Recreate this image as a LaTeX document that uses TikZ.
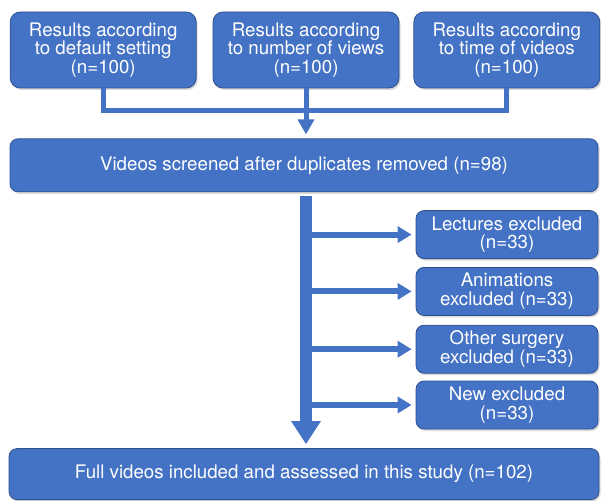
\documentclass[tikz,border=0pt]{standalone}
\usepackage{fontspec}
\setmainfont{TeX Gyre Heros}
\usetikzlibrary{arrows.meta, positioning, shadows}
\definecolor{boxblue}{RGB}{68,114,196}
\definecolor{boxedge}{RGB}{47,82,143}
\tikzset{
    sourcebox/.style={draw=boxedge, fill=boxblue, rectangle, rounded corners=10pt, line width=0.8pt, text=white, align=center, minimum width=186pt, minimum height=76pt, inner sep=2pt, font=\fontsize{18.7}{18.6}\selectfont, drop shadow={shadow xshift=1.5pt, shadow yshift=-2pt, opacity=0.3}},
    widebox/.style={sourcebox, rounded corners=8pt, minimum width=588pt, minimum height=53pt},
    excludebox/.style={sourcebox, rounded corners=8pt, minimum width=182pt, minimum height=48pt},
    link/.style={draw=boxblue, line width=5pt},
    linkarrow/.style={link, -{Triangle[width=16pt,length=15pt]}},
    mainarrow/.style={draw=boxblue, line width=12pt, -{Triangle[width=28pt,length=23pt]}},
    sidearrow/.style={draw=boxblue, line width=6pt, -{Triangle[width=16pt,length=14pt]}}
}
\begin{document}
\begin{tikzpicture}[x=1pt, y=1pt]
    \useasboundingbox (0,0) rectangle (601,-500);

    % Search results
    \node (views) [sourcebox] at (306,-50) {Results according\\to number of views\\(n=100)};
    \node (default) [sourcebox, left=16pt of views] {Results according\\to default setting\\(n=100)};
    \node (time) [sourcebox, right=14pt of views] {Results according\\to time of videos\\(n=100)};

    % Screening and final set
    \node (screened) [widebox, below=50pt of views, xshift=-2pt] {Videos screened after duplicates removed (n=98)};
    \node (full) [widebox, minimum width=590pt, minimum height=51pt, below=256pt of screened] {Full videos included and assessed in this study (n=102)};

    % Exclusions
    \node (lectures) [excludebox, below left=18pt and 0pt of screened.south east] {Lectures excluded\\(n=33)};
    \node (animations) [excludebox, below=8pt of lectures] {Animations\\excluded (n=33)};
    \node (surgery) [excludebox, below=9pt of animations] {Other surgery\\excluded (n=33)};
    \node (news) [excludebox, below=7pt of surgery] {New excluded\\(n=33)};

    % Merge the three searches
    \coordinate (merge) at ([yshift=-22pt]views.south);
    \draw [link] (default.south) |- (merge) -| (time.south);
    \draw [linkarrow, shorten >=4pt] (views.south) -- (views.south |- screened.north);

    % Branches to the exclusions
    \foreach \target in {lectures, animations, surgery, news}
        \draw [sidearrow, shorten >=4pt] (\target.west -| views.south) -- (\target.west);

    \draw [mainarrow, shorten <=4pt, shorten >=4pt] (screened.south -| views.south) -- (full.north -| views.south);

\end{tikzpicture}
\end{document}
